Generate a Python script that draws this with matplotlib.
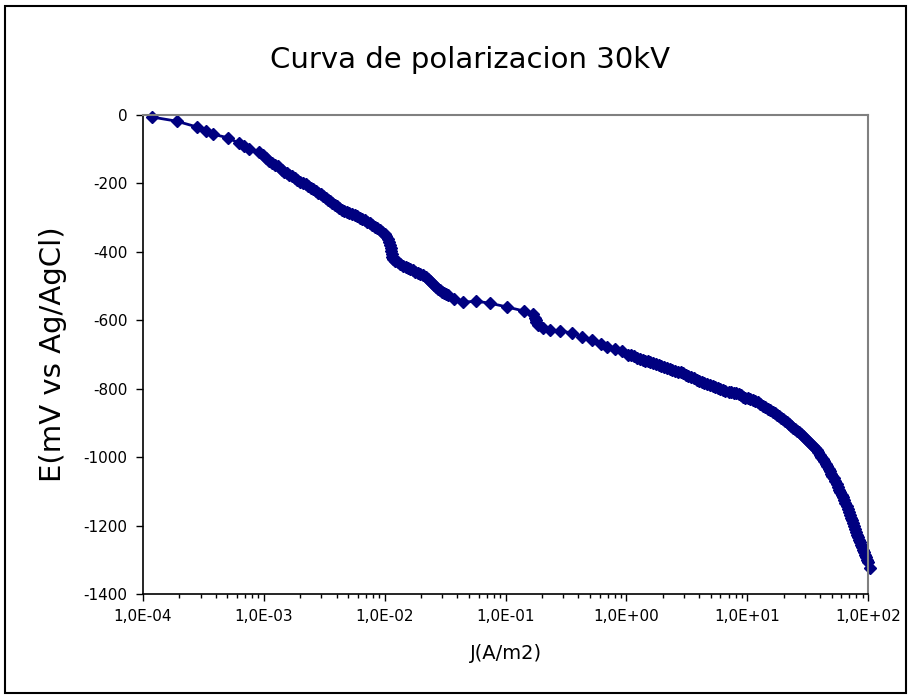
import numpy as np
import matplotlib
matplotlib.use("Agg")
from matplotlib import pyplot as plt
from matplotlib.ticker import FuncFormatter, LogLocator, NullFormatter, MultipleLocator
from matplotlib.patches import Rectangle

plt.rcParams['font.family'] = ['DejaVu Sans']
plt.rcParams['axes.unicode_minus'] = False

# curva de polarizacion, densidad de corriente J (A/m2) y potencial E (mV vs Ag/AgCl)
J = np.array([
    1.19e-4, 1.9e-4, 2.8e-4, 3.3e-4, 3.8e-4, 5.1e-4, 6.2e-4, 6.9e-4, 7.6e-4, 9.1e-4,
    9.8e-4, 1.05e-3, 1.1e-3, 1.17e-3, 1.24e-3, 1.3e-3, 1.41e-3, 1.48e-3, 1.55e-3, 1.63e-3,
    1.71e-3, 1.8e-3, 1.9e-3, 2.0e-3, 2.11e-3, 2.22e-3, 2.33e-3, 2.45e-3, 2.57e-3, 2.7e-3,
    2.82e-3, 2.95e-3, 3.1e-3, 3.25e-3, 3.4e-3, 3.55e-3, 3.7e-3, 3.9e-3, 4.05e-3, 4.2e-3,
    4.4e-3, 4.65e-3, 4.9e-3, 5.1e-3, 5.4e-3, 5.65e-3, 5.9e-3, 6.2e-3, 6.5e-3, 6.85e-3,
    7.2e-3, 7.5e-3, 7.9e-3, 8.3e-3, 8.7e-3, 9.1e-3, 9.5e-3, 1.0e-2, 1.03e-2, 1.07e-2,
    1.09e-2, 1.1e-2, 1.12e-2, 1.13e-2, 1.14e-2, 1.16e-2, 1.18e-2, 1.22e-2, 1.29e-2, 1.35e-2,
    1.42e-2, 1.49e-2, 1.56e-2, 1.63e-2, 1.71e-2, 1.8e-2, 1.89e-2, 1.98e-2, 2.08e-2, 2.18e-2,
    2.29e-2, 2.38e-2, 2.48e-2, 2.57e-2, 2.66e-2, 2.77e-2, 2.88e-2, 3.0e-2, 3.1e-2, 3.22e-2,
    3.35e-2, 3.76e-2, 4.46e-2, 5.7e-2, 7.46e-2, 1.03e-1, 1.43e-1, 1.69e-1, 1.76e-1, 1.78e-1,
    1.8e-1, 1.86e-1, 2.05e-1, 2.34e-1, 2.83e-1, 3.56e-1, 4.3e-1, 5.2e-1, 6.18e-1, 6.93e-1,
    8.07e-1, 9.2e-1, 1.03, 1.1, 1.16, 1.23, 1.3, 1.36, 1.43, 1.5,
    1.57, 1.67, 1.77, 1.85, 1.94, 2.06, 2.18, 2.28, 2.39, 2.54,
    2.69, 2.82, 2.95, 3.1, 3.24, 3.44, 3.64, 3.82, 4.0, 4.2,
    4.4, 4.67, 4.94, 5.18, 5.43, 5.7, 5.97, 6.27, 6.57, 7.0,
    7.4, 7.75, 8.1, 8.5, 8.9, 9.25, 9.6, 10.1, 10.6, 11.1,
    11.6, 12.2, 12.8, 13.4, 14.1, 14.8, 15.5, 16.3, 17.1, 17.7,
    18.4, 19.1, 19.9, 20.6, 21.4, 22.2, 23.1, 24.0, 24.9, 25.9,
    26.9, 28.0, 29.1, 30.2, 31.4, 32.6, 33.9, 35.2, 36.6, 37.6,
    38.7, 39.8, 41.0, 42.2, 43.4, 44.6, 45.9, 47.2, 48.6, 49.6,
    50.6, 52.0, 53.5, 55.0, 56.6, 57.7, 58.9, 60.6, 62.4, 63.6,
    64.8, 66.7, 68.6, 69.9, 71.3, 72.6, 74.0, 75.4, 76.9, 78.4,
    79.9, 81.4, 83.0, 84.5, 86.1, 87.8, 89.5, 91.2, 93.0, 94.8,
    96.6, 98.3, 100.0, 104.0,
])
E = np.array([
    -6, -18, -35, -47, -56, -67, -82, -91, -99, -108,
    -117, -126, -134, -140, -146, -150, -161, -166, -170, -174,
    -178, -185, -190, -195, -199, -203, -207, -212, -216, -223,
    -228, -232, -237, -243, -248, -252, -257, -263, -266, -272,
    -278, -281, -284, -286, -289, -292, -295, -300, -304, -308,
    -313, -317, -322, -326, -331, -336, -342, -348, -354, -362,
    -371, -380, -389, -398, -406, -414, -421, -426, -430, -436,
    -441, -444, -447, -450, -453, -458, -462, -465, -468, -473,
    -479, -485, -491, -497, -503, -508, -512, -516, -520, -523,
    -526, -538, -547, -544, -550, -561, -573, -582, -593, -599,
    -605, -614, -623, -628, -631, -637, -649, -658, -669, -678,
    -684, -690, -701, -702, -704, -709, -713, -716, -719, -720,
    -722, -725, -728, -731, -734, -737, -740, -742, -745, -748,
    -751, -752, -754, -759, -763, -766, -769, -774, -778, -780,
    -783, -786, -789, -792, -795, -798, -801, -804, -807, -809,
    -810, -811, -813, -815, -818, -823, -827, -828, -830, -833,
    -836, -840, -845, -850, -854, -858, -862, -867, -871, -876,
    -880, -885, -889, -893, -897, -903, -909, -914, -918, -922,
    -927, -932, -938, -944, -950, -956, -962, -967, -973, -979,
    -985, -993, -1000, -1005, -1011, -1019, -1026, -1034, -1041, -1048,
    -1055, -1062, -1070, -1079, -1087, -1095, -1102, -1110, -1117, -1126,
    -1134, -1143, -1152, -1160, -1169, -1177, -1184, -1193, -1201, -1210,
    -1219, -1227, -1234, -1241, -1248, -1256, -1263, -1270, -1277, -1285,
    -1292, -1300, -1307, -1324,
])

xticks = [1e-4, 1e-3, 1e-2, 1e-1, 1e0, 1e1, 1e2]

def fmt_sci(v, pos):
    e = int(np.round(np.log10(v)))
    return f"1,0E{e:+03d}"

fig = plt.figure(figsize=(9.1, 6.99), dpi=100)
fig.patches.append(Rectangle((0.006, 0.009), 0.99, 0.983, transform=fig.transFigure,
                             fill=False, edgecolor="black", linewidth=1.5))

ax = fig.add_axes([0.157, 0.150, 0.797, 0.6855])
ax.plot(J, E, "-D", color="#000080", markersize=6.2, linewidth=2, clip_on=False)

ax.set_xscale("log")
ax.set_xlim(1e-4, 1e2)
ax.set_ylim(-1400, 0)
ax.set_xticks(xticks)
ax.xaxis.set_major_formatter(FuncFormatter(fmt_sci))
ax.xaxis.set_minor_locator(LogLocator(base=10, subs=np.arange(2, 10)))
ax.xaxis.set_minor_formatter(NullFormatter())
ax.yaxis.set_major_locator(MultipleLocator(200))

ax.tick_params(axis="both", which="major", direction="out", length=5, width=1,
               labelsize=11, pad=6)
ax.tick_params(axis="x", which="minor", direction="out", length=3, width=1)
ax.tick_params(axis="y", which="minor", left=False)

for s in ["left", "bottom"]:
    ax.spines[s].set_color("black")
    ax.spines[s].set_linewidth(1.2)
for s in ["top", "right"]:
    ax.spines[s].set_color("#808080")
    ax.spines[s].set_linewidth(1.5)

fig.text(0.516, 0.914, "Curva de polarizacion 30kV", ha="center", va="center", fontsize=21)
ax.set_xlabel("J(A/m2)", fontsize=14, labelpad=14)
ax.set_ylabel("E(mV vs Ag/AgCl)", fontsize=21, labelpad=12)

fig.savefig("out.png", dpi=100)
